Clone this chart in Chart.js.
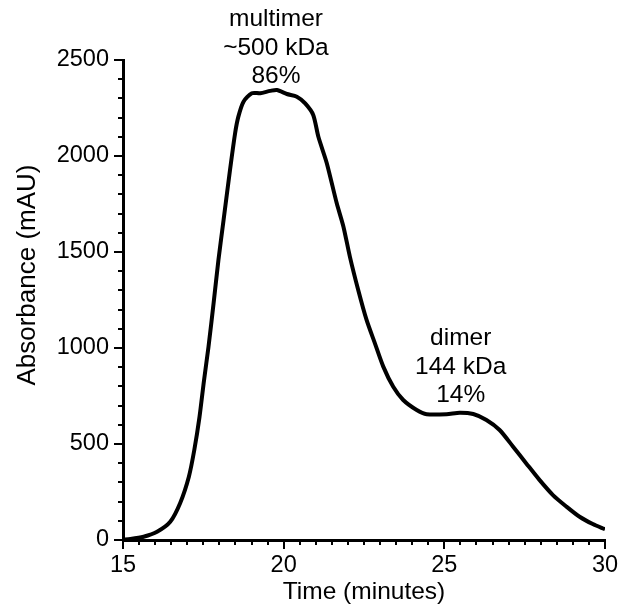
<!DOCTYPE html>
<html>
<head>
<meta charset="utf-8">
<script src="https://cdn.jsdelivr.net/npm/chart.js@4.4.0/dist/chart.umd.min.js"></script>
<style>
  html, body { margin: 0; padding: 0; background: #fff; }
  #wrap { width: 623px; height: 609px; }
</style>
</head>
<body>
<div id="wrap"><canvas id="chart"></canvas></div>
<script>
// elution trace
const timeMin = [
  15.00, 15.23, 15.64, 16.06, 16.47, 16.78, 17.05, 17.22, 17.38, 17.52,
  17.66, 17.82, 17.97, 18.13, 18.33, 18.49, 18.59, 18.75, 19.01, 19.27,
  19.58, 19.79, 20.10, 20.41, 20.67, 20.92, 21.08, 21.34, 21.65, 21.86,
  22.06, 22.32, 22.58, 22.84, 23.10, 23.41, 23.72, 24.14, 24.45, 25.07,
  25.48, 25.90, 26.31, 26.72, 27.14, 27.55, 27.96, 28.38, 28.80, 29.21,
  29.62, 30.00
];
const absorbance = [
  2, 5, 17, 43, 95, 193, 330, 470, 640, 830,
  1005, 1234, 1458, 1667, 1927, 2120, 2205, 2283, 2327, 2327,
  2339, 2344, 2323, 2309, 2274, 2214, 2100, 1964, 1755, 1632,
  1476, 1302, 1146, 1024, 903, 798, 729, 677, 655, 655,
  663, 656, 625, 573, 486, 399, 313, 234, 174, 121,
  83, 56
];

const xTicks = [15, 20, 25, 30];
const yTicks = [0, 500, 1000, 1500, 2000, 2500];

const peakNames = ['multimer', 'dimer'];
const peakSizes = ['~500 kDa', '144 kDa'];
const peakShares = ['86%', '14%'];

const FONT = "'Liberation Sans', Arial, Helvetica, sans-serif";

// major + minor tick marks, drawn through the scales
const tickMarks = {
  id: 'tickMarks',
  afterDraw(chart, args, opts) {
    const { ctx, scales: { x, y } } = chart;
    ctx.save();
    ctx.strokeStyle = '#000';
    ctx.lineWidth = 2;
    const xb = y.getPixelForValue(y.min);
    for (let v = x.min; v <= x.max + 1e-6; v += opts.xStep) {
      const major = xTicks.some(t => Math.abs(t - v) < 1e-6);
      const px = Math.round(x.getPixelForValue(v));
      ctx.beginPath();
      ctx.moveTo(px, xb);
      ctx.lineTo(px, xb + (major ? opts.major : opts.minor));
      ctx.stroke();
    }
    const yl = x.getPixelForValue(x.min);
    for (let v = y.min; v <= y.max + 1e-6; v += opts.yStep) {
      const major = yTicks.some(t => Math.abs(t - v) < 1e-6);
      const py = Math.round(y.getPixelForValue(v));
      ctx.beginPath();
      ctx.moveTo(yl, py);
      ctx.lineTo(yl - (major ? opts.major : opts.minor), py);
      ctx.stroke();
    }
    ctx.restore();
  }
};

// peak captions (anchored in data units) and the y axis title
const peakText = {
  id: 'peakText',
  afterDraw(chart, args, opts) {
    const { ctx, scales: { x, y } } = chart;
    ctx.save();
    ctx.fillStyle = '#000';
    ctx.font = opts.font;
    ctx.textAlign = 'center';
    ctx.textBaseline = 'middle';
    opts.anchors.forEach((a, i) => {
      const px = x.getPixelForValue(a.t);
      const py = y.getPixelForValue(a.v);
      [peakNames[i], peakSizes[i], peakShares[i]].forEach((s, k) => {
        ctx.fillText(s, px, py + k * opts.lineGap);
      });
    });
    // y title sits a bit above the middle of the axis in the original
    ctx.font = opts.yTitleFont;
    ctx.translate(opts.yTitleX, y.getPixelForValue(opts.yTitleAt));
    ctx.rotate(-Math.PI / 2);
    ctx.fillText('Absorbance (mAU)', 0, 0);
    ctx.restore();
  }
};

const ctx = document.getElementById('chart').getContext('2d');
new Chart(ctx, {
  type: 'line',
  data: {
    datasets: [{
      data: timeMin.map((t, i) => ({ x: t, y: absorbance[i] })),
      borderColor: '#000',
      borderWidth: 4,
      pointRadius: 0,
      tension: 0.25,
      fill: false
    }]
  },
  options: {
    responsive: true,
    maintainAspectRatio: false,
    animation: false,
    layout: { padding: { top: 60, right: 18, left: 0, bottom: 0 } },
    plugins: {
      legend: { display: false },
      tooltip: { enabled: false },
      tickMarks: { xStep: 0.5, yStep: 100, major: 9, minor: 5 },
      peakText: {
        font: '24.5px ' + FONT,
        yTitleFont: '26px ' + FONT,
        yTitleX: 28,
        yTitleAt: 1380,
        lineGap: 28.5,
        anchors: [{ t: 19.76, v: 2710 }, { t: 25.51, v: 1050 }]
      }
    },
    scales: {
      x: {
        type: 'linear',
        min: 15,
        max: 30,
        afterBuildTicks: s => { s.ticks = xTicks.map(v => ({ value: v })); },
        afterFit: s => { s.height = 69; s.paddingLeft = 0; s.paddingRight = 0; },
        grid: { display: false, drawTicks: false, tickLength: 0 },
        border: { display: true, color: '#000', width: 3 },
        ticks: {
          color: '#000', font: { family: FONT, size: 23.5 }, padding: 11, maxRotation: 0,
          callback: v => String(v)
        },
        title: {
          display: true,
          text: 'Time (minutes)',
          color: '#000',
          font: { family: FONT, size: 24.5 },
          padding: { top: 0, bottom: 2 }
        }
      },
      y: {
        type: 'linear',
        min: 0,
        max: 2500,
        afterBuildTicks: s => { s.ticks = yTicks.map(v => ({ value: v })); },
        afterFit: s => { s.width = 123; s.paddingTop = 0; s.paddingBottom = 0; },
        grid: { display: false, drawTicks: false, tickLength: 0 },
        border: { display: true, color: '#000', width: 3 },
        ticks: {
          color: '#000', font: { family: FONT, size: 23.5 }, padding: 14,
          callback: v => String(v)
        },
        title: { display: false }
      }
    }
  },
  plugins: [tickMarks, peakText]
});
</script>
</body>
</html>
